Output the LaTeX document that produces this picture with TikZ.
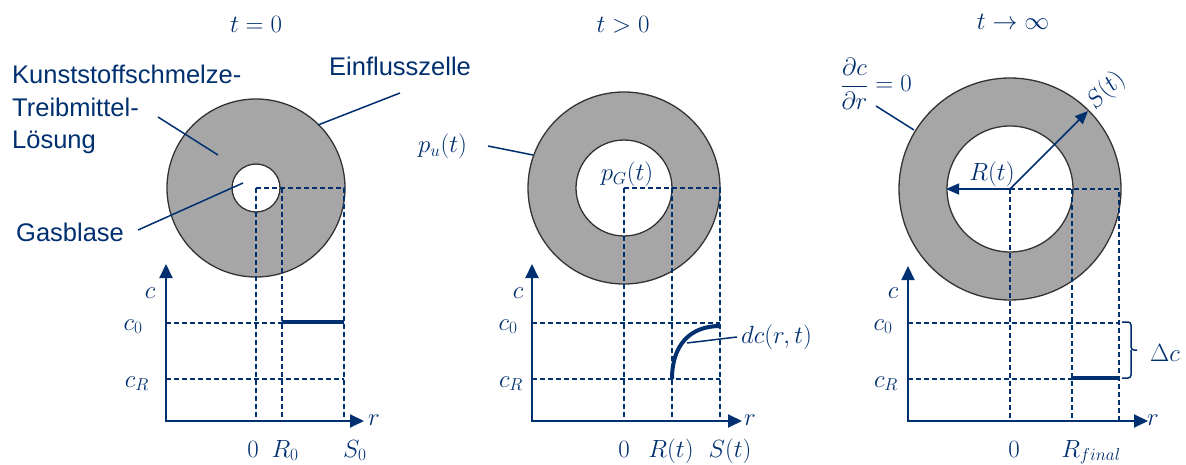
\documentclass[tikz,border=0pt]{standalone}
\usepackage[no-math]{fontspec}
\setmainfont{Liberation Sans}
\usetikzlibrary{arrows.meta}
\definecolor{navy}{RGB}{0,48,112}
\definecolor{ringgray}{RGB}{166,166,166}
\definecolor{edgegray}{RGB}{51,51,51}
\begin{document}
\begin{tikzpicture}[x=1pt,y=-1pt,
  lbl/.style={text=navy, font=\fontsize{25.5}{32.5}\selectfont, inner sep=0pt},
  mth/.style={text=navy, font=\fontsize{25}{29}\selectfont, inner sep=0pt},
  ringfill/.style={fill=ringgray, even odd rule},
  ringedge/.style={draw=edgegray, line width=1.3pt},
  guideline/.style={draw=navy, line width=1.3pt, dash pattern=on 5pt off 3pt},
  axisarrows/.style={draw=navy, line width=2pt, {Triangle[length=14pt,width=13pt]}-{Triangle[length=14pt,width=13pt]}},
  profline/.style={draw=navy, line width=4pt},
  leadline/.style={draw=navy, line width=1.5pt},
  radarrow/.style={draw=navy, line width=1.5pt, -{Triangle[length=13pt,width=11pt]}}
]
\useasboundingbox (0,0) rectangle (1186,465);
\fill[white] (0,0) rectangle (1186,465);

% ---------------- Panel 1 : t = 0
\coordinate (C1) at (256,188);
\fill[ringfill] (C1) circle (89) (C1) circle (24);
\draw[ringedge] (C1) circle (89) (C1) circle (24);
\coordinate (O1) at (166,421);
\coordinate (Y1) at (166,264);
\coordinate (X1) at (364,421);
\coordinate (R1top) at (282,188);
\coordinate (S1top) at (344,188);
\draw[guideline] (C1) -- (S1top) -- (344,421);
\draw[guideline] (C1) -- (256,421);
\draw[guideline] (R1top) -- (282,421);
\draw[guideline] (166,323) -- (344,323);
\draw[guideline] (166,379) -- (344,379);
\draw[axisarrows] (Y1) -- (O1) -- (X1);
\draw[profline] (282,322) -- (344,322);

\node[mth, anchor=base] (t1) at (256,33) {$t=0$};
\node[mth, anchor=base] (z1) at (253,457) {$0$};
\node[mth, anchor=base] (Rn1) at (285,457) {$R_0$};
\node[mth, anchor=base west] (Sn1) at (343,457) {$S_0$};
\node[mth, anchor=base] (c1) at (150,298) {$c$};
\node[mth, anchor=base] (cz1) at (133,330) {$c_0$};
\node[mth, anchor=base] (cR1) at (137,387) {$c_R$};
\node[mth, anchor=base] (r1) at (374,425) {$r$};

\node[lbl, anchor=north west, align=left] (melt) at (12,65) {Kunststoffschmelze-\\Treibmittel-\\Lösung};
\node[lbl, anchor=base west] (gas) at (16,241) {Gasblase};
\node[lbl, anchor=base west] (cell) at (329,76) {Einflusszelle};
\coordinate (melt1) at (158,117);
\coordinate (melt2) at (218,155);
\coordinate (gas1) at (138,230);
\coordinate (gas2) at (243,183);
\coordinate (cell1) at (400,93);
\coordinate (cell2) at (318,125);
\draw[leadline] (melt1) -- (melt2);
\draw[leadline] (gas1) -- (gas2);
\draw[leadline] (cell1) -- (cell2);

% ---------------- Panel 2 : t > 0
\coordinate (C2) at (624,188);
\fill[ringfill] (C2) circle (96) (C2) circle (48);
\draw[ringedge] (C2) circle (96) (C2) circle (48);
\coordinate (O2) at (532,421);
\coordinate (Y2) at (532,264);
\coordinate (X2) at (742,421);
\coordinate (S2top) at (720,188);
\draw[guideline] (C2) -- (S2top) -- (720,421);
\draw[guideline] (C2) -- (624,421);
\draw[guideline] (672,188) -- (672,421);
\draw[guideline] (532,323) -- (720,323);
\draw[guideline] (532,379) -- (720,379);
\draw[axisarrows] (Y2) -- (O2) -- (X2);
\coordinate (prof2a) at (672,379);
\coordinate (prof2b) at (720,326);
\draw[profline] (prof2a) .. controls (672,345) and (690,326) .. (prof2b);

\node[mth, anchor=base] (t2) at (623,33) {$t>0$};
\node[mth, anchor=base] (z2) at (624,457) {$0$};
\node[mth, anchor=base] (Rn2) at (671,457) {$R(t)$};
\node[mth, anchor=base] (Sn2) at (730,457) {$S(t)$};
\node[mth, anchor=base] (c2) at (518,298) {$c$};
\node[mth, anchor=base] (cz2) at (508,330) {$c_0$};
\node[mth, anchor=base] (cR2) at (511,387) {$c_R$};
\node[mth, anchor=base] (r2) at (750,425) {$r$};
\node[mth, anchor=base west] (pu) at (418,153) {$p_u(t)$};
\node[mth, anchor=base] (pG) at (627,181) {$p_G(t)$};
\node[mth, anchor=base west] (dc) at (741,343) {$dc(r,t)$};
\coordinate (pu1) at (488,146);
\coordinate (pu2) at (533,155);
\coordinate (dc1) at (737,337);
\coordinate (dc2) at (687,343);
\draw[leadline] (pu1) -- (pu2);
\draw[leadline] (dc1) -- (dc2);

% ---------------- Panel 3 : t -> infinity
\coordinate (C3) at (1010,189);
\fill[ringfill] (C3) circle (111) (C3) circle (63);
\draw[ringedge] (C3) circle (111) (C3) circle (63);
\coordinate (O3) at (908,421);
\coordinate (Y3) at (908,266);
\coordinate (X3) at (1148,421);
\coordinate (S3top) at (1119,189);
\draw[guideline] (C3) -- (S3top) -- (1119,421);
\draw[guideline] (C3) -- (1010,421);
\draw[guideline] (1072,189) -- (1072,421);
\draw[guideline] (908,323) -- (1119,323);
\draw[guideline] (908,379) -- (1119,379);
\draw[axisarrows] (Y3) -- (O3) -- (X3);
\draw[profline] (1072,378) -- (1119,378);
\coordinate (Rin3) at (946,189);
\coordinate (Sout3) at (1088,111);
\draw[radarrow] (C3) -- (Rin3);
\draw[radarrow] (C3) -- (Sout3);

\coordinate (br1) at (1122,322);
\coordinate (br2) at (1122,378);
\draw[leadline, rounded corners=3pt] (br1) -- (1131,322) -- (1131,350) -- (1137,350);
\draw[leadline, rounded corners=3pt] (br2) -- (1131,378) -- (1131,350);

\node[mth, anchor=base] (t3) at (1013,30) {$t\to\infty$};
\node[mth, anchor=base] (z3) at (1014,457) {$0$};
\node[mth, anchor=base] (Rf3) at (1091,457) {$R_{final}$};
\node[mth, anchor=base] (c3) at (893,298) {$c$};
\node[mth, anchor=base] (cz3) at (883,330) {$c_0$};
\node[mth, anchor=base] (cR3) at (886,387) {$c_R$};
\node[mth, anchor=base] (r3) at (1153,425) {$r$};
\node[mth, anchor=base] (Rl3) at (992,181) {$R(t)$};
\node[mth, rotate=45] (Sl3) at (1106,91) {$S(t)$};
\node[mth, anchor=base] (dl3) at (1165,361) {$\Delta c$};
\node[mth, anchor=base] (grad) at (876,92) {$\displaystyle\frac{\partial c}{\partial r}=0$};
\coordinate (gr1) at (876,106);
\coordinate (gr2) at (914,130);
\draw[leadline] (gr1) -- (gr2);
\end{tikzpicture}
\end{document}
